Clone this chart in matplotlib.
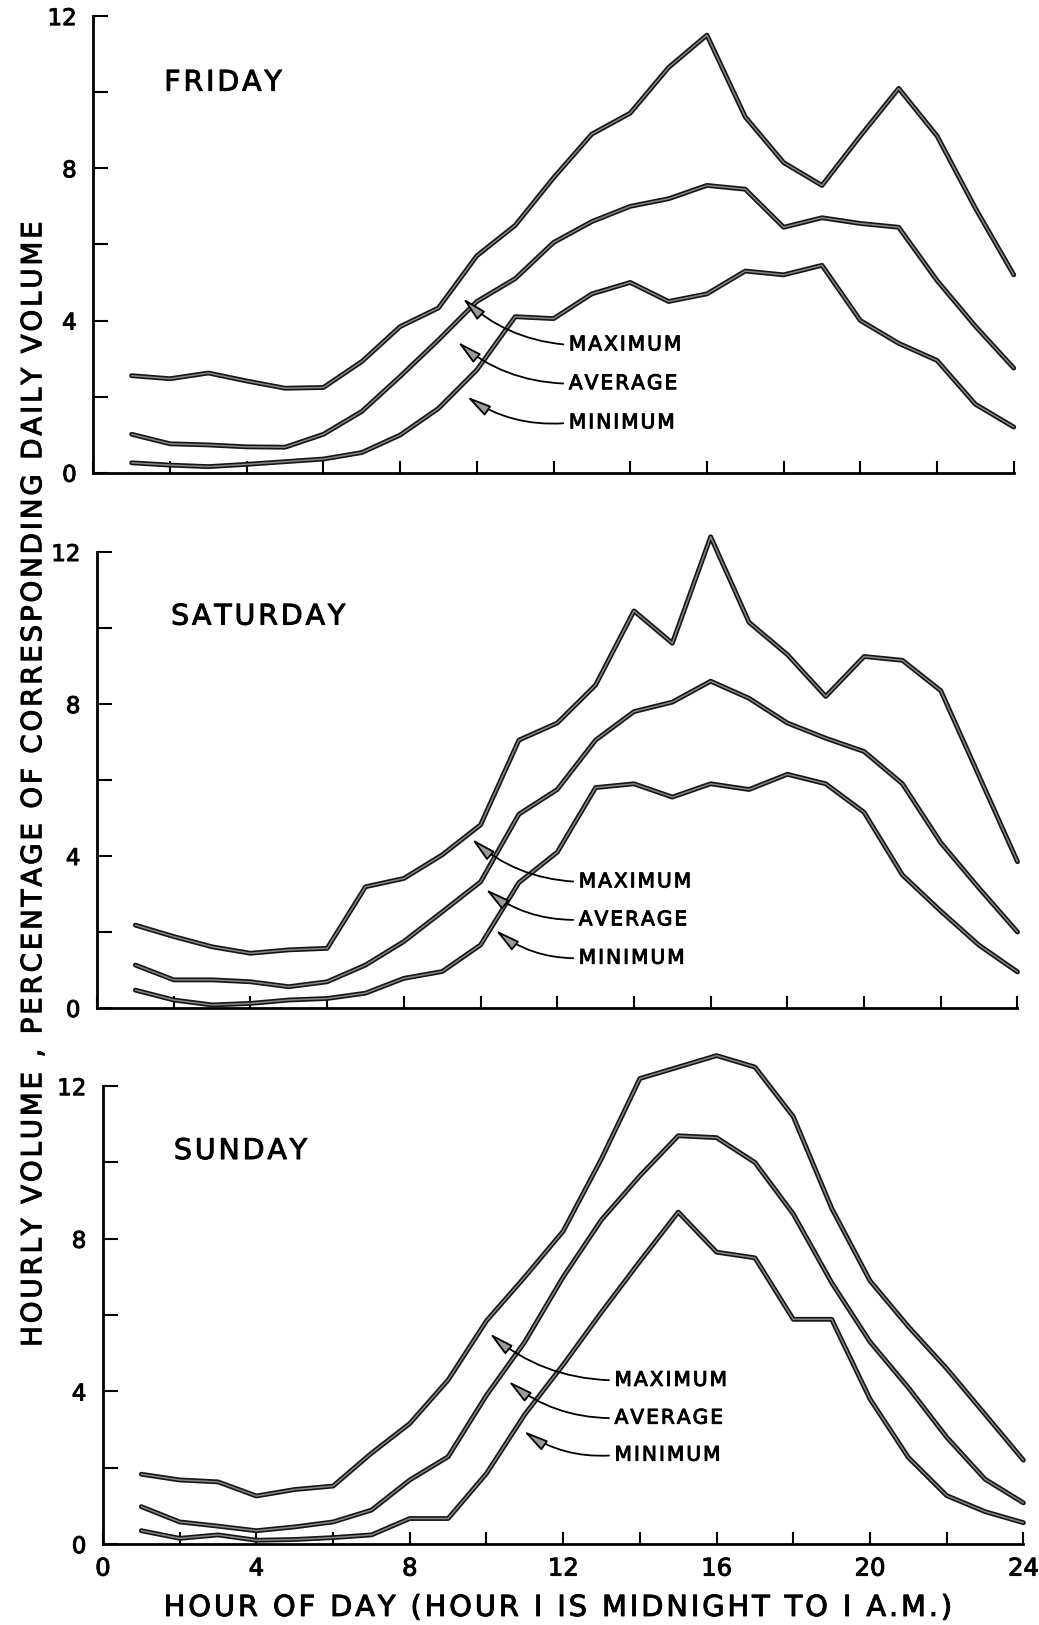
import matplotlib
matplotlib.use("Agg")
import matplotlib.pyplot as plt
import matplotlib.patheffects as pe

# Hour of day (hour 1 is midnight to 1 a.m.)
hours = list(range(1, 25))

# Hourly volume as percentage of the corresponding daily volume
friday_max = [2.55, 2.47, 2.62, 2.41, 2.22, 2.24, 2.92, 3.84, 4.33, 5.70, 6.50, 7.75,
              8.90, 9.45, 10.65, 11.50, 9.35, 8.15, 7.55, 8.85, 10.10, 8.85, 6.95, 5.20]
friday_avg = [1.01, 0.76, 0.73, 0.68, 0.67, 1.01, 1.61, 2.53, 3.49, 4.50, 5.10, 6.05,
              6.60, 7.00, 7.20, 7.55, 7.45, 6.45, 6.70, 6.55, 6.45, 5.05, 3.85, 2.75]
friday_min = [0.26, 0.20, 0.16, 0.22, 0.29, 0.36, 0.53, 0.99, 1.69, 2.70, 4.10, 4.05,
              4.70, 5.00, 4.50, 4.70, 5.30, 5.20, 5.45, 4.00, 3.40, 2.95, 1.80, 1.20]

saturday_max = [2.18, 1.88, 1.61, 1.44, 1.53, 1.57, 3.19, 3.41, 4.03, 4.82, 7.05, 7.50,
                8.50, 10.45, 9.60, 12.40, 10.15, 9.30, 8.20, 9.25, 9.15, 8.35, 6.10, 3.85]
saturday_avg = [1.13, 0.74, 0.74, 0.69, 0.56, 0.69, 1.13, 1.75, 2.53, 3.32, 5.10, 5.75,
                7.05, 7.80, 8.05, 8.60, 8.15, 7.50, 7.10, 6.75, 5.90, 4.35, 3.15, 2.00]
saturday_min = [0.47, 0.21, 0.08, 0.12, 0.21, 0.25, 0.39, 0.78, 0.96, 1.66, 3.30, 4.10,
                5.80, 5.90, 5.55, 5.90, 5.75, 6.15, 5.90, 5.15, 3.50, 2.55, 1.65, 0.95]

sunday_max = [1.83, 1.68, 1.63, 1.26, 1.43, 1.52, 2.38, 3.16, 4.30, 5.85, 7.00, 8.20,
              10.10, 12.20, 12.50, 12.80, 12.50, 11.20, 8.80, 6.90, 5.70, 4.60, 3.40, 2.20]
sunday_avg = [0.98, 0.58, 0.47, 0.35, 0.45, 0.58, 0.89, 1.68, 2.29, 3.90, 5.30, 7.00,
              8.50, 9.65, 10.70, 10.65, 10.00, 8.65, 6.85, 5.30, 4.10, 2.80, 1.70, 1.08]
sunday_min = [0.35, 0.15, 0.24, 0.10, 0.12, 0.17, 0.24, 0.67, 0.67, 1.85, 3.40, 4.70,
              6.08, 7.41, 8.70, 7.65, 7.50, 5.89, 5.89, 3.80, 2.27, 1.27, 0.85, 0.56]

day_names = ["FRIDAY", "SATURDAY", "SUNDAY"]
series_names = ["MAXIMUM", "AVERAGE", "MINIMUM"]
x_tick_labels = ["0", "4", "8", "12", "16", "20", "24"]
y_tick_labels = ["0", "4", "8", "12"]
y_title = "HOURLY VOLUME , PERCENTAGE OF CORRESPONDING DAILY VOLUME"
x_title = "HOUR OF DAY (HOUR I IS MIDNIGHT TO I A.M.)"

panels = [
    (friday_max, friday_avg, friday_min),
    (saturday_max, saturday_avg, saturday_min),
    (sunday_max, sunday_avg, sunday_min),
]

# Panel geometry (figure fractions)
axes_rects = [
    [0.0898, 0.7091, 0.8859, 0.2810],
    [0.0934, 0.3797, 0.8859, 0.2806],
    [0.0991, 0.0498, 0.8859, 0.2818],
]
day_label_pos = [(1.85, 10.25), (1.93, 10.3), (1.85, 10.3)]
# label anchor (x, y) for MAXIMUM / AVERAGE / MINIMUM, and arrow tips
note_text_pos = [
    [(12.40, 3.36), (12.40, 2.34), (12.40, 1.31)],
    [(12.56, 3.32), (12.56, 2.32), (12.56, 1.31)],
    [(13.34, 4.29), (13.34, 3.30), (13.34, 2.33)],
]
note_tip_pos = [
    [(9.63, 4.59), (9.50, 3.44), (9.74, 2.00)],
    [(9.77, 4.45), (10.13, 3.13), (10.39, 2.05)],
    [(10.08, 5.52), (10.57, 4.27), (10.97, 2.96)],
]


def tracked(s, n=1):
    """Open up letter spacing with hair spaces, like stencil lettering."""
    return ("\u200a" * n).join(s)


# slightly heavier strokes for the lettering
ink = [pe.withStroke(linewidth=0.7, foreground="black")]

plt.rcParams["font.family"] = ["DejaVu Sans"]

fig = plt.figure(figsize=(10.39, 16.25), dpi=100)

for i, (rect, series) in enumerate(zip(axes_rects, panels)):
    ax = fig.add_axes(rect)
    for vals in series:
        ax.plot(hours, vals, color="#151515", lw=3.5, solid_joinstyle="round",
                solid_capstyle="round", zorder=3, clip_on=False)
        ax.plot(hours, vals, color="#858585", lw=1.1, solid_joinstyle="round",
                solid_capstyle="round", zorder=4, clip_on=False)

    ax.set_xlim(0, 24)
    ax.set_ylim(0, 12)
    for side in ("top", "right"):
        ax.spines[side].set_visible(False)
    for side in ("left", "bottom"):
        ax.spines[side].set_linewidth(2.0)
        ax.spines[side].set_color("black")

    ax.set_yticks([0, 4, 8, 12])
    ax.set_yticks([2, 6, 10], minor=True)
    ax.set_yticklabels(y_tick_labels)
    ax.set_xticks(range(0, 25, 4))
    ax.set_xticks(range(2, 25, 4), minor=True)
    if i == 2:
        ax.set_xticklabels(x_tick_labels)
    else:
        ax.set_xticklabels([])
    ax.tick_params(axis="y", which="both", direction="in", length=11, width=1.5,
                   labelsize=16.5, pad=12)
    ax.tick_params(axis="x", which="both", direction="in", length=9, width=1.5,
                   labelsize=17.5, pad=9)
    for lab in ax.get_xticklabels() + ax.get_yticklabels():
        lab.set_path_effects(ink)

    ax.text(*day_label_pos[i], tracked(day_names[i], 1), fontsize=20.5,
            ha="left", va="center", path_effects=ink)

    for name, tpos, tip in zip(series_names, note_text_pos[i], note_tip_pos[i]):
        ax.annotate(tracked(name, 1), xy=tip, xytext=tpos, fontsize=14.5,
                    ha="left", va="center", path_effects=ink,
                    arrowprops=dict(arrowstyle="-|>,head_length=1.5,head_width=0.35",
                                    connectionstyle="arc3,rad=-0.18",
                                    mutation_scale=10, lw=1.3, fc="#9a9a9a", ec="black",
                                    relpos=(0, 0.5), shrinkA=2, shrinkB=0),
                    zorder=5)

fig.text(0.032, 0.517, tracked(y_title, 1), rotation=90, fontsize=20,
         ha="center", va="center", path_effects=ink)
fig.text(0.537, 0.0105, tracked(x_title, 1), fontsize=20.8,
         ha="center", va="center", path_effects=ink)

fig.savefig("out.png", dpi=100, facecolor="white")
